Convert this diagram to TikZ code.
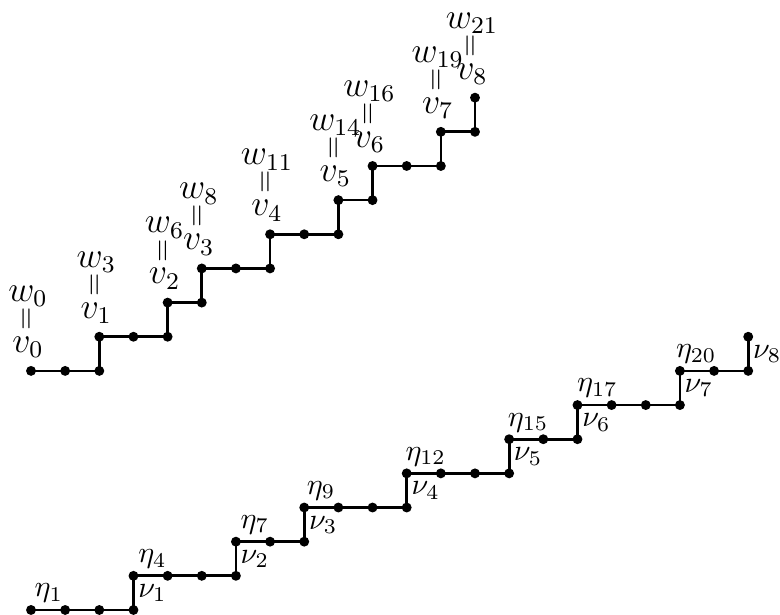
\documentclass[tikz,border=0pt]{standalone}
\usepackage{graphicx}
\usetikzlibrary{calc}
\newcommand\wvstack[2]{$\begin{array}{@{}c@{}}w_{#1}\\[-4.3pt]\rotatebox{90}{\fontsize{10}{12}\selectfont$=$}\\[-6.7pt]v_{#2}\end{array}$}
\begin{document}
\begin{tikzpicture}[x=0.4cm,y=0.4cm,
  pathline/.style={line width=0.9pt},
  dot/.style={circle,fill=black,inner sep=0pt,minimum size=3.3pt},
  stack/.style={inner sep=0pt,font=\fontsize{12}{14}\selectfont,anchor=south,yshift=1.8pt,xshift=-1pt},
  etalab/.style={inner sep=0pt,anchor=base west,yshift=4.4pt},
  nulab/.style={inner sep=0pt,anchor=base west,xshift=1.4pt,yshift=-1.5pt}]
\useasboundingbox (-0.908,-0.146) rectangle (21.93,17.86);
% upper path
\foreach \x/\y [count=\i from 0] in {0/0,1/0,2/0,2/1,3/1,4/1,4/2,5/2,5/3,6/3,7/3,7/4,8/4,9/4,9/5,10/5,10/6,11/6,12/6,12/7,13/7,13/8}
  \coordinate (t\i) at (\x,\y+7);
\draw[pathline] (t0) \foreach \i in {1,...,21}{ -- (t\i)};
\foreach \i in {0,...,21} \node[dot] (dt\i) at (t\i) {};
\node[stack] (s0) at (t0) {\wvstack{0}{0}};
\node[stack] (s1) at (t3) {\wvstack{3}{1}};
\node[stack] (s2) at (t6) {\wvstack{6}{2}};
\node[stack] (s3) at (t8) {\wvstack{8}{3}};
\node[stack] (s4) at (t11) {\wvstack{11}{4}};
\node[stack] (s5) at (t14) {\wvstack{14}{5}};
\node[stack] (s6) at (t16) {\wvstack{16}{6}};
\node[stack] (s7) at (t19) {\wvstack{19}{7}};
\node[stack] (s8) at (t21) {\wvstack{21}{8}};
% lower path
\foreach \x/\y [count=\i from 0] in {0/0,1/0,2/0,3/0,3/1,4/1,5/1,6/1,6/2,7/2,8/2,8/3,9/3,10/3,11/3,11/4,12/4,13/4,14/4,14/5,15/5,16/5,16/6,17/6,18/6,19/6,19/7,20/7,21/7,21/8}
  \coordinate (b\i) at (\x,\y);
\draw[pathline] (b0) \foreach \i in {1,...,29}{ -- (b\i)};
\foreach \i in {0,...,29} \node[dot] (db\i) at (b\i) {};
\node[etalab,xshift=1.0pt] (e1) at (b0) {$\eta_1$};
\node[etalab,xshift=1.4pt] (e4) at (b4) {$\eta_4$};
\node[etalab,xshift=1.4pt] (e7) at (b8) {$\eta_7$};
\node[etalab,xshift=0.7pt] (e9) at (b11) {$\eta_9$};
\node[etalab,xshift=-0.6pt] (e12) at (b15) {$\eta_{12}$};
\node[etalab,xshift=-0.6pt] (e15) at (b19) {$\eta_{15}$};
\node[etalab,xshift=-0.3pt] (e17) at (b22) {$\eta_{17}$};
\node[etalab,xshift=-1.5pt] (e20) at (b26) {$\eta_{20}$};
\node[nulab] (n1) at ($(b3)!0.5!(b4)$) {$\nu_1$};
\node[nulab] (n2) at ($(b7)!0.5!(b8)$) {$\nu_2$};
\node[nulab] (n3) at ($(b10)!0.5!(b11)$) {$\nu_3$};
\node[nulab] (n4) at ($(b14)!0.5!(b15)$) {$\nu_4$};
\node[nulab] (n5) at ($(b18)!0.5!(b19)$) {$\nu_5$};
\node[nulab] (n6) at ($(b21)!0.5!(b22)$) {$\nu_6$};
\node[nulab] (n7) at ($(b25)!0.5!(b26)$) {$\nu_7$};
\node[nulab] (n8) at ($(b28)!0.5!(b29)$) {$\nu_8$};
\end{tikzpicture}
\end{document}
